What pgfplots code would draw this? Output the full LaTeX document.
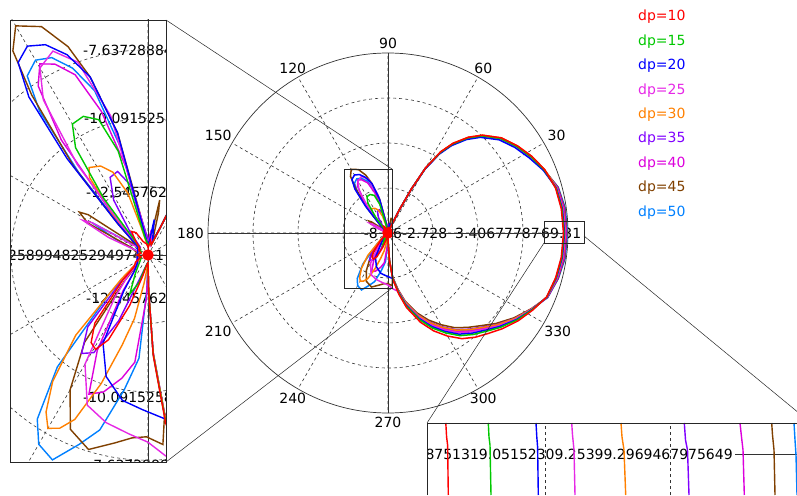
\documentclass[border=0pt]{standalone}
\usepackage{pgfplots}
\pgfplotsset{compat=1.18}
\usepackage{pgfplotstable}
\usepgfplotslibrary{polar}
\usepackage{fontspec}
\setmainfont{DejaVu Sans}

\definecolor{c10}{RGB}{255,0,0}
\definecolor{c15}{RGB}{0,200,0}
\definecolor{c20}{RGB}{0,0,255}
\definecolor{c25}{RGB}{230,40,230}
\definecolor{c30}{RGB}{255,128,0}
\definecolor{c35}{RGB}{128,0,255}
\definecolor{c40}{RGB}{220,0,220}
\definecolor{c45}{RGB}{128,64,0}
\definecolor{c50}{RGB}{0,128,255}

\pgfplotstableread[row sep=\\]{a r\\
-90 2\\-89 10\\-87 28\\-84 47\\-80 62\\-76 77\\-70 95\\-65 108\\-60 119\\-55 129\\-50 136\\-45 142\\-40 149\\-34 157\\-28 164\\-22 171\\-15 173.5\\-8 175\\0 175.5\\8 175\\15 173.5\\22 169\\28 163\\34 156\\40 148\\46 136\\50 125\\54 111\\57 97\\60 75\\62 50\\64 25\\66 8\\72 3\\80 4\\88 2\\96 3\\110 4\\118 7\\125 8\\132 5\\140 3\\150 3\\165 2\\180 3\\195 2\\210 4\\220 5\\225 10\\232 24\\237 29\\241 30\\245 26\\250 15\\256 6\\262 3\\270 2\\}\tA

\pgfplotstableread[row sep=\\]{a r\\
-90 2\\-89 9.9\\-87 27.7\\-84 46.2\\-80 60.7\\-76 75.0\\-70 92.3\\-65 104.8\\-60 115.4\\-55 125.3\\-50 132.5\\-45 139.0\\-40 146.8\\-34 155.6\\-28 163.4\\-22 171.2\\-15 173.9\\-8 175.5\\0 176\\8 175.5\\15 173.9\\22 168.5\\28 162\\34 155\\40 147\\46 135\\50 124\\54 110\\57 96\\60 74.5\\62 50\\64 25\\66 8\\72 3\\80 3\\90 3\\100 5\\106 30\\110 40\\115 42.5\\120 42\\124 36\\128 20\\132 6\\140 3\\160 2\\180 3\\200 2\\220 3\\235 6\\245 12\\252 8\\260 3\\270 2\\}\tB

\pgfplotstableread[row sep=\\]{a r\\
-84 45.8\\-80 60.0\\-76 74.1\\-70 90.9\\-65 103.1\\-60 113.6\\-55 123.5\\-50 130.8\\-45 137.5\\-40 145.6\\-34 154.9\\-28 163.1\\-22 171.3\\-15 174.2\\-8 176\\0 176.5\\8 176\\15 174.2\\22 167.5\\28 160\\34 153\\40 145\\46 133\\50 122\\54 108\\57 94\\60 73.5\\62 49\\64 24\\66 8\\72 4\\80 10\\84 4\\92 3\\100 8\\104 35\\108 52\\112 60\\116 65\\120 67\\124 64.5\\127 55\\130 35\\134 12\\140 4\\160 3\\180 3\\200 3\\220 4\\230 6\\236 12\\243 27.5\\251 35.7\\260 41\\268 43\\276 45.8\\}\tC

\pgfplotstableread[row sep=\\]{a r\\
-80 59.4\\-76 73.1\\-70 89.6\\-65 101.5\\-60 111.9\\-55 121.6\\-50 129.1\\-45 136.0\\-40 144.5\\-34 154.2\\-28 162.8\\-22 171.5\\-15 174.6\\-8 176.5\\0 177\\8 176.5\\15 174.6\\22 168.3\\28 161.5\\34 154.5\\40 146.5\\46 134.5\\50 123.5\\54 109.5\\57 95.5\\60 74.3\\62 50\\64 25\\66 8\\72 3\\82 6\\90 3\\100 10\\105 40\\110 57\\115 62.5\\120 60\\124 52\\128 32\\132 10\\140 3\\146 5\\150 18\\152 20.5\\156 12\\160 3\\180 3\\200 3\\220 4\\226 8\\232 15\\240 35\\248 45\\256 48\\264 50\\270 52\\275 56\\280 59.4\\}\tD

\pgfplotstableread[row sep=\\]{a r\\
-90 2\\-89 9.7\\-87 27.0\\-84 44.8\\-80 58.3\\-76 71.4\\-70 87.3\\-65 98.8\\-60 108.9\\-55 118.6\\-50 126.2\\-45 133.6\\-40 142.7\\-34 153.0\\-28 162.3\\-22 171.6\\-15 174.9\\-8 177\\0 177.5\\8 177\\15 174.9\\22 169\\28 163\\34 156\\40 148\\46 136\\50 125\\54 111\\57 97\\60 75\\62 50\\64 25\\66 8\\72 3\\85 4\\95 3\\104 8\\108 18\\113 25\\118 28\\124 29.3\\127 27\\131 15\\135 5\\150 3\\180 3\\210 3\\218 5\\222 10\\228 30\\233 44\\237 52\\240 55.6\\243 54\\246 50\\250 38\\254 26\\258 18\\262 8\\268 3\\270 2\\}\tE

\pgfplotstableread[row sep=\\]{a r\\
-90 2\\-89 9.7\\-87 27.0\\-84 44.7\\-80 58.1\\-76 71.1\\-70 86.9\\-65 98.3\\-60 108.3\\-55 118.0\\-50 125.6\\-45 133.1\\-40 142.3\\-34 152.8\\-28 162.2\\-22 171.8\\-15 175.3\\-8 177.5\\0 178\\8 177.5\\15 175.3\\22 168.3\\28 161.5\\34 154.5\\40 146.5\\46 134.5\\50 123.5\\54 109.5\\57 95.5\\60 74.3\\62 50\\64 25\\66 8\\74 3\\88 4\\98 8\\104 20\\110 24.7\\116 24\\122 18\\128 8\\135 3\\160 3\\190 3\\215 4\\220 6\\224 10\\230 26\\236 33\\241 31\\246 20\\252 6\\260 3\\270 2\\}\tF

\pgfplotstableread[row sep=\\]{a r\\
-90 2\\-89 9.8\\-87 27.2\\-84 45.2\\-80 59.0\\-76 72.4\\-70 88.7\\-65 100.4\\-60 110.7\\-55 120.4\\-50 127.9\\-45 135.0\\-40 143.8\\-34 153.7\\-28 162.6\\-22 171.9\\-15 175.6\\-8 178\\0 178.5\\8 178\\15 175.6\\22 168\\28 161\\34 154\\40 146\\46 134\\50 123\\54 109\\57 95\\60 74\\62 50\\64 25\\66 8\\74 3\\84 6\\94 3\\104 25\\108 42\\112 54\\116 59\\119.5 61\\123 56\\127 40\\131 15\\136 4\\150 3\\180 3\\210 3\\228 5\\235 12\\242 30\\247 42\\252 40\\258 35\\263 30\\268 12\\270 2\\}\tG

\pgfplotstableread[row sep=\\]{a r\\
-84 44.2\\-80 57.2\\-76 69.8\\-70 85.1\\-65 96.1\\-60 105.9\\-55 115.5\\-50 123.3\\-45 131.1\\-40 140.8\\-34 151.8\\-28 161.8\\-22 172\\-15 176\\-8 178.5\\0 179\\8 178.5\\15 176\\22 168.5\\28 162\\34 155\\40 147\\46 135\\50 124\\54 110\\57 96\\60 74.5\\62 50\\64 25\\66 8\\72 4\\76 12\\78 15.6\\81 5\\90 3\\100 10\\104 35\\108 52\\111 62\\115 70\\120 73.5\\123.5 68\\126 55\\130 32\\134 12\\140 4\\144 8\\146 20\\148 22.5\\152 19\\156 5\\170 3\\200 3\\222 4\\228 10\\234 30\\240 43.3\\246 53\\253 56.5\\260 53\\265 51\\269.5 50.5\\274.5 52.8\\276 44.2\\}\tH

\pgfplotstableread[row sep=\\]{a r\\
-90 2\\-89 9.8\\-87 27.2\\-84 45.1\\-80 58.7\\-76 72.1\\-70 88.2\\-65 99.9\\-60 110.1\\-55 119.8\\-50 127.3\\-45 134.5\\-40 143.4\\-34 153.5\\-28 162.5\\-22 172.2\\-15 176.3\\-8 179\\0 179.5\\8 179\\15 176.3\\22 168.3\\28 161.5\\34 154.5\\40 146.5\\46 134.5\\50 123.5\\54 109.5\\57 95.5\\60 74.3\\62 50\\64 25\\66 8\\72 3\\82 5\\92 3\\100 6\\104 30\\108 48\\112 56\\116 61\\120 62.5\\124 60\\127 50\\130 30\\134 10\\140 4\\146 6\\150 18\\154 10\\160 3\\190 3\\218 4\\225 15\\231 40\\236 55\\240 60.7\\245 62.8\\250 56\\254.6 50.4\\260 38\\265 28.8\\268 10\\270 2\\}\tI

\pgfplotsset{
  mygrid/.style={grid=major, major grid style={black!80, line width=0.6pt, dash pattern=on 3pt off 3pt},
    tick style={draw=none}, xticklabels={}, yticklabels={}, xtick={0,30,...,330}},
}
\newcommand{\curves}[1]{%
  \addplot[c50, line width=#1] table[x=a,y=r] {\tI};
  \addplot[c45, line width=#1] table[x=a,y=r] {\tH};
  \addplot[c40, line width=#1] table[x=a,y=r] {\tG};
  \addplot[c35, line width=#1] table[x=a,y=r] {\tF};
  \addplot[c30, line width=#1] table[x=a,y=r] {\tE};
  \addplot[c25, line width=#1] table[x=a,y=r] {\tD};
  \addplot[c20, line width=#1] table[x=a,y=r] {\tC};
  \addplot[c15, line width=#1] table[x=a,y=r] {\tB};
  \addplot[c10, line width=#1] table[x=a,y=r] {\tA};
  \addplot[only marks, mark=*, mark size=5.5pt, c10] coordinates {(0,0)};
}
\newcommand{\fs}{\fontsize{14pt}{16pt}\selectfont}

\begin{document}
\begin{tikzpicture}[x=1pt,y=1pt]
\useasboundingbox (0,0) rectangle (797,495);
\clip (0,0) rectangle (797,495);

% ---------------- main polar plot ----------------
\begin{polaraxis}[at={(388pt,262pt)}, anchor=center, scale only axis,
  width=360pt, height=360pt, ymin=0, ymax=180, ytick={45,90,135}, mygrid,
  axis line style={black!80, line width=0.7pt}, clip mode=individual, font=\fs]
  \node[anchor=210, inner sep=1pt] at (axis cs:30,183) {30};
  \node[anchor=240, inner sep=1pt] at (axis cs:60,183) {60};
  \node[anchor=270, inner sep=1pt] at (axis cs:90,183) {90};
  \node[anchor=300, inner sep=1pt] at (axis cs:120,183) {120};
  \node[anchor=330, inner sep=1pt] at (axis cs:150,183) {150};
  \node[anchor=0, inner sep=1pt] at (axis cs:180,183) {180};
  \node[anchor=30, inner sep=1pt] at (axis cs:210,183) {210};
  \node[anchor=60, inner sep=1pt] at (axis cs:240,183) {240};
  \node[anchor=90, inner sep=1pt] at (axis cs:270,183) {270};
  \node[anchor=120, inner sep=1pt] at (axis cs:300,183) {300};
  \node[anchor=150, inner sep=1pt] at (axis cs:330,183) {330};
  \node[anchor=east, inner sep=0pt] at (axis cs:180,10) {-8};
  \node[anchor=west, inner sep=0pt] at (axis cs:0,5) {6-2.728};
  \node[anchor=west, inner sep=0pt] at (axis cs:0,67) {3.40677787};
  \node[anchor=west, inner sep=0pt] at (axis cs:0,153) {69.31};
  \draw[black!80, line width=0.7pt] (axis cs:0,180) -- (axis cs:180,180);
  \draw[black!80, line width=0.7pt] (axis cs:90,180) -- (axis cs:270,180);
  \curves{1.5pt}
\end{polaraxis}

% zoom boxes on main plot
\draw[black!85, line width=0.6pt] (344,207) rectangle (392,326);
\draw[black!85, line width=0.6pt] (544,252) rectangle (584,274);
% connecting lines
\draw[black!85, line width=0.5pt] (166,475) -- (392,326);
\draw[black!85, line width=0.5pt] (166,33) -- (392,207);
\draw[black!85, line width=0.5pt] (544,252) -- (427,72);
\draw[black!85, line width=0.5pt] (584,259) -- (811,72);

% ---------------- left inset ----------------
\begin{scope}
\clip (10,33) rectangle (166,475);
\fill[white] (10,33) rectangle (166,475);
\node[anchor=west, inner sep=0pt, font=\fs] at (83,445) {-7.6372888493};
\node[anchor=west, inner sep=0pt, font=\fs] at (84,377) {-10.0915258};
\node[anchor=west, inner sep=0pt, font=\fs] at (86,303) {-12.5457629};
\node[anchor=east, inner sep=0pt, font=\fs] at (142,240) {-14.258994825294974};
\node[anchor=west, inner sep=0pt, font=\fs] at (155,240) {1};
\node[anchor=west, inner sep=0pt, font=\fs] at (86,197) {-12.5457629};
\node[anchor=west, inner sep=0pt, font=\fs] at (83,98) {-10.0915258};
\node[anchor=west, inner sep=0pt, font=\fs] at (88,30) {-7.6372888};
\begin{polaraxis}[at={(148pt,240pt)}, anchor=center, scale only axis,
  width=1296pt, height=1296pt, ymin=0, ymax=180, ytick={19,38,57}, mygrid,
  axis line style={draw=none}]
  \draw[black!80, line width=0.7pt] (axis cs:0,180) -- (axis cs:180,180);
  \draw[black!80, line width=0.7pt] (axis cs:90,180) -- (axis cs:270,180);
  \curves{1.4pt}
\end{polaraxis}
\end{scope}
\draw[black!85, line width=0.6pt] (10,33) rectangle (166,475);

% ---------------- right inset ----------------
\begin{scope}
\clip (427,0) rectangle (797,72);
\fill[white] (427,0) rectangle (797,72);
\node[anchor=east, inner sep=0pt, font=\fs] at (733,41) {38751319.05152309.25399.2969467975649};
\begin{axis}[at={(427pt,0pt)}, anchor=south west, scale only axis,
  width=370pt, height=72pt, xmin=427, xmax=797, ymin=0, ymax=72, hide axis]
  \draw[black!80, line width=0.6pt, dash pattern=on 3pt off 3pt] (axis cs:545,0) -- (axis cs:545,72);
  \draw[black!80, line width=0.6pt, dash pattern=on 3pt off 3pt] (axis cs:670,0) -- (axis cs:670,72);
  \draw[black!80, line width=0.7pt] (axis cs:735,41) -- (axis cs:797,41);
  \addplot[c10, line width=1.4pt] coordinates {(445.8,72) (446.6,58) (447.6,50) (448.3,0)};
  \addplot[c15, line width=1.4pt] coordinates {(488.3,72) (489,58) (490,50) (491,0)};
  \addplot[c20, line width=1.4pt] coordinates {(536,72) (536.8,58) (537.6,48) (538.3,0)};
  \addplot[c25, line width=1.4pt] coordinates {(571.7,72) (572.5,60) (574,45) (575,0)};
  \addplot[c30, line width=1.4pt] coordinates {(621,72) (622,58) (624,45) (625.7,0)};
  \addplot[c35, line width=1.4pt] coordinates {(684.3,72) (685.5,55) (687.5,45) (689,0)};
  \addplot[c40, line width=1.4pt] coordinates {(740,72) (741.5,58) (743,45) (744.3,0)};
  \addplot[c45, line width=1.4pt] coordinates {(771.7,72) (772.5,60) (774,45) (775,0)};
  \addplot[c50, line width=1.4pt] coordinates {(794,72) (795,55) (796,40) (797,0)};
\end{axis}
\end{scope}
\draw[black!85, line width=0.6pt] (427,0) -- (427,72) -- (800,72);

% ---------------- legend ----------------
\node[anchor=base west, inner sep=0pt, font=\fs, text=c10] at (638,474) {dp=10};
\node[anchor=base west, inner sep=0pt, font=\fs, text=c15] at (638,449.6) {dp=15};
\node[anchor=base west, inner sep=0pt, font=\fs, text=c20] at (638,425.2) {dp=20};
\node[anchor=base west, inner sep=0pt, font=\fs, text=c25] at (638,400.8) {dp=25};
\node[anchor=base west, inner sep=0pt, font=\fs, text=c30] at (638,376.4) {dp=30};
\node[anchor=base west, inner sep=0pt, font=\fs, text=c35] at (638,352) {dp=35};
\node[anchor=base west, inner sep=0pt, font=\fs, text=c40] at (638,327.6) {dp=40};
\node[anchor=base west, inner sep=0pt, font=\fs, text=c45] at (638,303.2) {dp=45};
\node[anchor=base west, inner sep=0pt, font=\fs, text=c50] at (638,278.8) {dp=50};
\end{tikzpicture}
\end{document}
